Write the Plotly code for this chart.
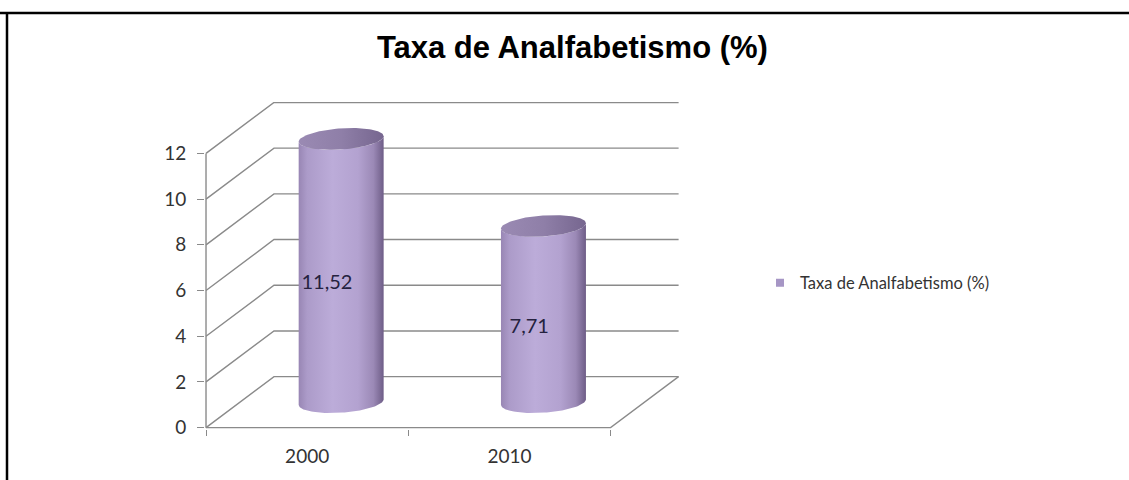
import numpy as np
import plotly.graph_objects as go

# --- data -------------------------------------------------------------
anos = ["2000", "2010"]
taxa = [11.52, 7.71]
y_ticks = [0, 2, 4, 6, 8, 10, 12]
titulo = "Taxa de Analfabetismo (%)"
serie = "Taxa de Analfabetismo (%)"

# --- page / plot-area geometry (pixels) --------------------------------
W, H = 1129, 480
ML, MR, MT, MB = 205, 450, 102, 51
PW, PH = W - ML - MR, H - MT - MB

# oblique "3-D" depth offset, expressed in data units
DX = 0.336      # along the category axis
DV = 2.23       # along the value axis
X0, X1 = -0.5, len(anos) - 0.5
x_range = [-0.505, X1 + DX + 0.002]
y_range = [-0.06, max(y_ticks) + DV + 0.02]

# cylinder shape (data units)
R = 0.21        # horizontal radius
RY = 0.46       # vertical half-axis of the end ellipses
TILT = 0.12     # slight perspective tilt of the ellipses

GRID = "#8a8a8a"
TXT = "#333333"
FONT = "Lato, 'Open Sans', sans-serif"

fig = go.Figure()

# walls, floor and gridlines of the 3-D frame
gx, gy = [], []
for v in y_ticks:
    gx += [X0, X0 + DX, X1 + DX, None]
    gy += [v, v + DV, v + DV, None]
gx += [X0, X1, X1 + DX, None]
gy += [0, 0, DV, None]
gx += [X0, X0, None]
gy += [0, max(y_ticks), None]
fig.add_trace(go.Scatter(x=gx, y=gy, mode="lines",
                         line=dict(color=GRID, width=1.4),
                         hoverinfo="skip", showlegend=False))


def ellipse(cx, cy, t):
    return cx + R * np.cos(t), cy + RY * np.sin(t) + TILT * np.cos(t)


body_scale = [[0.0, "#9886b4"], [0.1, "#ac9bc9"], [0.4, "#bcacd9"],
              [0.7, "#b3a2d0"], [0.88, "#9b89b6"], [1.0, "#6e5d87"]]
top_scale = [[0.0, "#9a8ab3"], [0.5, "#8f7fa8"], [1.0, "#76668f"]]

for i, (ano, v) in enumerate(zip(anos, taxa)):
    cx = i + DX / 2
    yb = DV / 2
    yt = yb + v
    # body: left side, front half of the base, right side, front half of the top
    tb = np.linspace(np.pi, 2 * np.pi, 60)
    bx, by = ellipse(cx, yb, tb)
    tx, ty = ellipse(cx, yt, tb[::-1])
    xs = np.concatenate([bx, tx, bx[:1]])
    ys = np.concatenate([by, ty, by[:1]])
    fig.add_trace(go.Scatter(
        x=xs, y=ys, mode="lines", fill="toself",
        line=dict(width=0, color="rgba(0,0,0,0)"),
        fillgradient=dict(type="horizontal", colorscale=body_scale),
        hoverinfo="skip", showlegend=False))
    # top cap
    tt = np.linspace(0, 2 * np.pi, 120)
    cxs, cys = ellipse(cx, yt, tt)
    fig.add_trace(go.Scatter(
        x=cxs, y=cys, mode="lines", fill="toself",
        line=dict(width=0, color="rgba(0,0,0,0)"),
        fillgradient=dict(type="horizontal", colorscale=top_scale),
        hoverinfo="skip", showlegend=False))
    # value label
    fig.add_trace(go.Scatter(
        x=[cx - 0.07], y=[yb + v / 2 - 0.6], mode="text",
        text=[f"{v:.2f}".replace(".", ",")],
        textfont=dict(family=FONT, size=20, color="#25223f"),
        hoverinfo="skip", showlegend=False))

# legend entry for the series
fig.add_trace(go.Scatter(x=[None], y=[None], mode="markers", name=serie,
                         marker=dict(symbol="square", size=8, color="#a696c5")))


def px_x(p):
    return (p - ML) / PW


def px_y(p):
    return (H - MB - p) / PH


# page frame (top rule and left rule)
shapes = [
    dict(type="line", xref="paper", yref="paper",
         x0=px_x(0), x1=px_x(W), y0=px_y(13), y1=px_y(13),
         line=dict(color="black", width=2.5)),
    dict(type="line", xref="paper", yref="paper",
         x0=px_x(7), x1=px_x(7), y0=px_y(12), y1=px_y(H + 2),
         line=dict(color="black", width=2.5)),
]

fig.update_layout(
    width=W, height=H,
    margin=dict(l=ML, r=MR, t=MT, b=MB, autoexpand=False),
    paper_bgcolor="white", plot_bgcolor="white",
    shapes=shapes,
    title=dict(text=f"<b>{titulo}</b>", x=0.507, xref="container", xanchor="center",
               y=1 - 47 / H, yref="container", yanchor="middle",
               font=dict(family="'Liberation Sans', sans-serif",
                         size=31, color="black")),
    legend=dict(x=px_x(760), xanchor="left", y=px_y(283), yanchor="middle",
                font=dict(family=FONT, size=16.5, color=TXT),
                bgcolor="rgba(0,0,0,0)", borderwidth=0, itemwidth=30),
    xaxis=dict(range=x_range, showgrid=False, zeroline=False, showline=False,
               tickvals=list(range(len(anos))), ticktext=anos, ticks="",
               tickfont=dict(family=FONT, size=19, color=TXT),
               ticklabelstandoff=14,
               minor=dict(tickvals=[k - 0.5 for k in range(len(anos) + 1)],
                          ticks="outside", ticklen=6, tickwidth=1.4, tickcolor=GRID)),
    yaxis=dict(range=y_range, showgrid=False, zeroline=False, showline=False,
               tickvals=y_ticks, ticks="outside", ticklen=7, tickwidth=1.4,
               tickcolor=GRID, ticklabelstandoff=7,
               tickfont=dict(family=FONT, size=19, color=TXT)),
)

fig.write_html("out.html")
